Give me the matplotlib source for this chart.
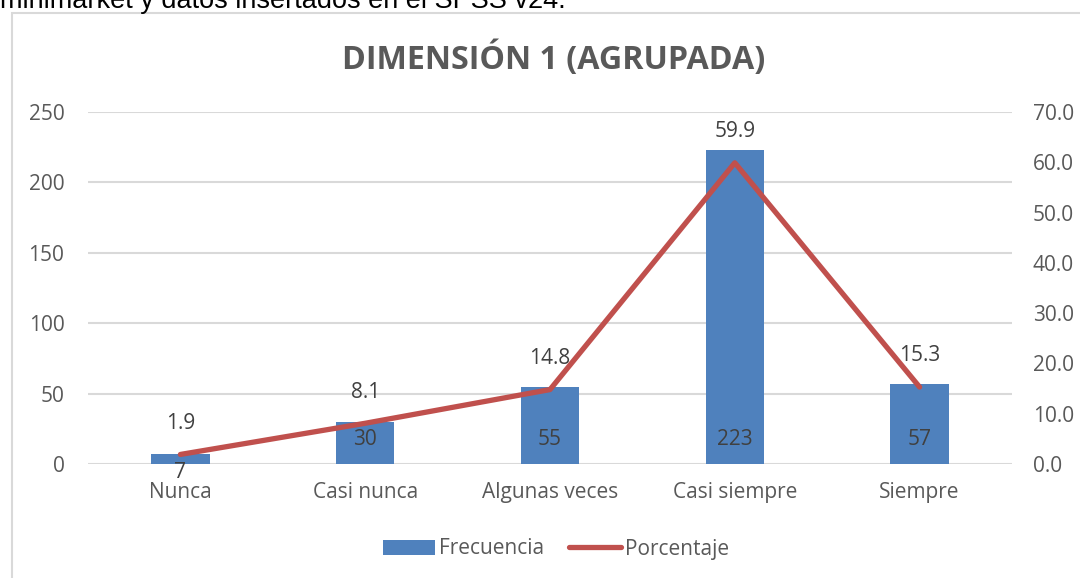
import matplotlib
matplotlib.use("Agg")
import matplotlib.pyplot as plt
from matplotlib.patches import Patch, Rectangle
from matplotlib.lines import Line2D

categorias = ["Nunca", "Casi nunca", "Algunas veces", "Casi siempre", "Siempre"]
frecuencia = [7, 30, 55, 223, 57]
porcentaje = [1.9, 8.1, 14.8, 59.9, 15.3]
ticks_izq = [0, 50, 100, 150, 200, 250]
ticks_der = [0, 10, 20, 30, 40, 50, 60, 70]

AZUL = "#4F81BD"
ROJO = "#C0504D"
GRIS_TXT = "#595959"
GRIS_LBL = "#404040"
GRIS_LIN = "#D9D9D9"
FUENTE = ["Open Sans", "DejaVu Sans"]
TAM = 15

W, H = 1080, 578
fig = plt.figure(figsize=(W / 100, H / 100), dpi=100)
fig.patch.set_facecolor("white")

# texto del documento que queda por encima del gráfico
fig.text(0, 1 - 8 / H, "minimarket y datos insertados en el SPSS v24.",
         family=["Liberation Sans", "DejaVu Sans"], fontsize=19.5,
         color="black", ha="left", va="baseline")

# marco del área del gráfico
fig.patches.append(Rectangle((11.5 / W, -0.05), 1.2, 1 - 12.5 / H + 0.05,
                             transform=fig.transFigure, fill=False,
                             edgecolor=GRIS_LIN, linewidth=1.5, zorder=0))

ax = fig.add_axes([88 / W, 1 - 464 / H, (1012 - 88) / W, (464 - 112) / H])
ax2 = ax.twinx()

x = list(range(len(categorias)))
ax.bar(x, frecuencia, width=0.315, color=AZUL, zorder=3)
ax.set_xlim(-0.5, len(categorias) - 0.5)
ax.set_ylim(0, 250)
ax.set_yticks(ticks_izq)
ax.set_xticks(x)
ax.set_xticklabels(categorias)
ax.grid(axis="y", color=GRIS_LIN, linewidth=1.5, zorder=0)
ax.set_axisbelow(True)

for a in (ax, ax2):
    for s in a.spines.values():
        s.set_visible(False)

ax.tick_params(axis="y", length=0, pad=17, labelsize=TAM, labelcolor=GRIS_TXT)
ax.tick_params(axis="x", length=0, pad=13, labelsize=TAM, labelcolor=GRIS_TXT)
for t in ax.get_xticklabels() + ax.get_yticklabels():
    t.set_family(FUENTE)

ax2.plot(x, porcentaje, color=ROJO, linewidth=3.8, solid_capstyle="round",
         zorder=4)
ax2.set_ylim(0, 70)
ax2.set_yticks(ticks_der)
ax2.set_yticklabels([f"{v:.1f}" for v in ticks_der])
ax2.tick_params(axis="y", length=0, pad=15, labelsize=TAM, labelcolor=GRIS_TXT)
for t in ax2.get_yticklabels():
    t.set_family(FUENTE)

# etiquetas de frecuencia: junto a la base de la barra, o bajo la barra si es muy baja
alto_px = 352 / 250
for xi, v in zip(x, frecuencia):
    if v * alto_px >= 30:
        ax.annotate(f"{v}", (xi, 0), xytext=(0, 17.5), textcoords="offset points",
                    ha="center", va="center", fontsize=TAM, color=GRIS_LBL,
                    family=FUENTE, zorder=6)
    else:
        ax.annotate(f"{v}", (xi, v), xytext=(0, -13.5), textcoords="offset points",
                    ha="center", va="center", fontsize=TAM, color=GRIS_LBL,
                    family=FUENTE, zorder=6)
for xi, v in zip(x, porcentaje):
    ax2.annotate(f"{v:.1f}", (xi, v), xytext=(0, 22.5), textcoords="offset points",
                 ha="center", va="center", fontsize=TAM, color=GRIS_LBL,
                 family=FUENTE, zorder=6)

fig.text(554 / W, 1 - 59 / H, "DIMENSIÓN 1 (AGRUPADA)", ha="center",
         va="center", fontsize=23.2, fontweight="bold", color=GRIS_TXT,
         family=FUENTE)

handles = [Patch(facecolor=AZUL, edgecolor="none", label="Frecuencia"),
           Line2D([], [], color=ROJO, linewidth=3.8, solid_capstyle="round",
                  label="Porcentaje")]
fig.legend(handles=handles, loc="center", bbox_to_anchor=(556 / W, 1 - 549 / H),
           ncol=2, frameon=False, prop={"family": FUENTE, "size": TAM},
           labelcolor=GRIS_TXT, handlelength=2.5, handleheight=0.7,
           handletextpad=0.2, columnspacing=1.2)

fig.savefig("out.png", dpi=100, facecolor="white")
